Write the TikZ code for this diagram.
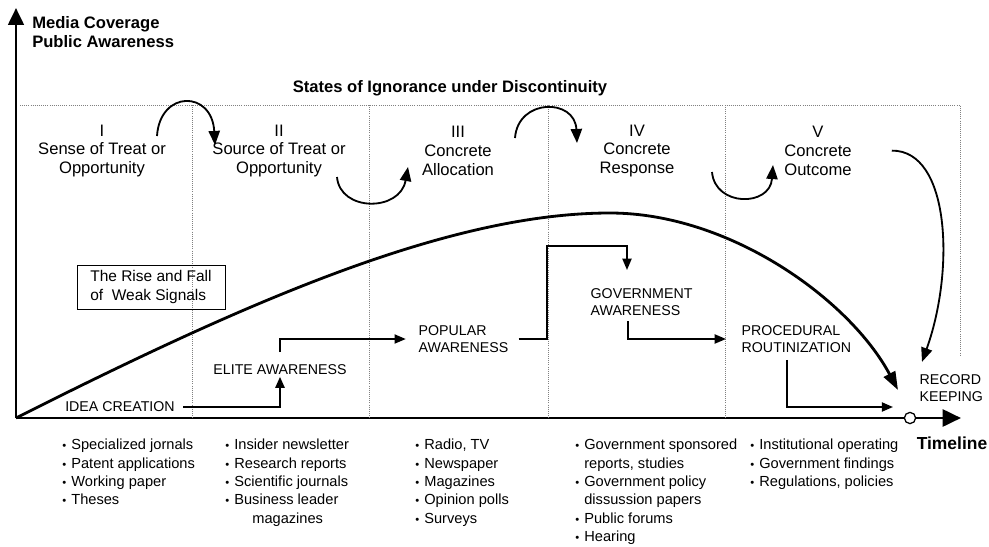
\documentclass[tikz,border=0pt]{standalone}
\usepackage{fontspec}
\setmainfont{Liberation Sans}
\usetikzlibrary{arrows.meta, calc}

\newcommand{\bul}{\makebox[0.62em][l]{\fontsize{8}{8}\selectfont\textbullet}}
\newcommand{\bulsp}{\hspace*{0.62em}}

\begin{document}
\begin{tikzpicture}[x=0.025cm, y=-0.025cm, >={Triangle[length=8pt,width=6.5pt]},
        stage/.style={align=center, font=\fontsize{11.8}{13.5}\selectfont},
        phase/.style={align=left, inner sep=1pt, font=\fontsize{10.1}{12}\selectfont},
        media/.style={align=left, anchor=north west, inner sep=0pt, font=\fontsize{10.4}{13}\selectfont},
        conn/.style={->, line width=1.1pt},
        swing/.style={-{Triangle[length=10pt,width=8pt]}, line width=1.3pt},
        zone/.style={densely dotted, gray, line width=0.5pt},
        axis/.style={line width=2.1pt}]

        \useasboundingbox (0,0) rectangle (989,547);

        % ==========================================
        % AXES
        % ==========================================
        \coordinate (origin) at (16,418);
        \coordinate (ytip) at (16,8);
        \coordinate (xtip) at (961,418);
        \node[draw, circle, fill=white, line width=0.9pt, minimum size=8pt, inner sep=0pt] (hub) at (910,418) {};
        \draw[axis, -{Triangle[length=12pt,width=11pt]}] (origin) -- (ytip);
        \draw[axis] (origin) -- (hub.west);
        \draw[axis, -{Triangle[length=13pt,width=12pt]}] (hub.east) -- (xtip);

        \node[anchor=west, align=left, inner sep=0pt, font=\bfseries\fontsize{11.8}{13.5}\selectfont] (ylabel) at (32,32) {Media Coverage\\Public Awareness};
        \node[font=\bfseries\fontsize{12.4}{14}\selectfont] (timeline) at (952,443) {Timeline};

        % ==========================================
        % STATES OF IGNORANCE
        % ==========================================
        \node[font=\bfseries\fontsize{11.8}{14}\selectfont] (title) at (450,88) {States of Ignorance under Discontinuity};

        % dotted frame
        \draw[zone] (20,105) -- (960,105) -- (960,355);
        \foreach \x in {192,369,548,725}
            \draw[zone] (\x,105) -- (\x,418);

        \node[stage] (s1) at (102,151) {I\\Sense of Treat or\\Opportunity};
        \node[stage] (s2) at (279,151) {II\\Source of Treat or\\Opportunity};
        \node[stage] (s3) at (458,151) {III\\Concrete\\Allocation};
        \node[stage] (s4) at (637,151) {IV\\Concrete\\Response};
        \node[stage] (s5) at (818,151) {V\\Concrete\\Outcome};

        % swings between states
        \coordinate (sw1a) at (157,136);
        \coordinate (sw1b) at (215,145);
        \coordinate (sw2a) at (337,177);
        \coordinate (sw2b) at (408,167);
        \coordinate (sw3a) at (515,138);
        \coordinate (sw3b) at (577,143);
        \coordinate (sw4a) at (712,172);
        \coordinate (sw4b) at (773,165);
        \draw[swing] (sw1a) .. controls (160,90) and (212,90) .. (sw1b);
        \draw[swing] (sw2a) .. controls (340,212) and (400,212) .. (sw2b);
        \draw[swing] (sw3a) .. controls (518,98) and (575,98) .. (sw3b);
        \draw[swing] (sw4a) .. controls (715,207) and (770,207) .. (sw4b);

        % ==========================================
        % RISE AND FALL
        % ==========================================
        \node[draw, line width=0.6pt, align=left, minimum width=3.7cm, minimum height=1.1cm, font=\fontsize{11}{13.5}\selectfont] (rise) at (151,287) {The Rise and Fall\\of\ \ Weak Signals};

        \draw[line width=2pt, -{Triangle[length=13pt,width=9pt]}] (origin) .. controls (250,300) and (450,213) .. (610,213)
            .. controls (730,213) and (850,300) .. ($(hub)+(-12,-28)$);

        % ==========================================
        % AWARENESS STEPS
        % ==========================================
        \node[phase] (idea) at (120,407) {IDEA CREATION};
        \node[phase] (elite) at (280,370) {ELITE AWARENESS};
        \node[phase, anchor=west] (popular) at (417,339) {POPULAR\\AWARENESS};
        \node[phase, anchor=west] (gov) at (589,302) {GOVERNMENT\\AWARENESS};
        \node[phase, anchor=west] (proc) at (740,339) {PROCEDURAL\\ROUTINIZATION};
        \node[phase, anchor=west] (record) at (918,388) {RECORD\\KEEPING};

        \coordinate (ridge) at (547,246);
        \draw[conn, line width=1.7pt, shorten <=5pt] (idea.east) -| (elite.south);
        \draw[conn, shorten <=8pt, shorten >=8pt] (elite.north) |- (popular.west);
        \draw[conn, shorten <=6pt, shorten >=12pt] (popular.east) -| (ridge) -| ($(gov.north west)+(38,0)$);
        \draw[conn, shorten <=3pt, shorten >=10pt] ($(gov.south west)+(39,0)$) |- (proc.west);
        \draw[conn, line width=1.4pt, shorten <=4pt] ($(proc.south west)+(47,0)$) |- ($(hub)+(-17,-11)$);

        % outcome to record keeping
        \draw[swing, shorten <=25pt] (s5.east) .. controls (950,150) and (955,270) .. ($(record.north west)+(4,-11)$);

        % ==========================================
        % MEDIA PER STATE
        % ==========================================
        \node[media] (src1) at (62,439) {\bul Specialized jornals\\\bul Patent applications\\\bul Working paper\\\bul Theses};
        \node[media] (src2) at (225,439) {\bul Insider newsletter\\\bul Research reports\\\bul Scientific journals\\\bul Business leader\\\hspace*{1.85em}magazines};
        \node[media] (src3) at (415,439) {\bul Radio, TV\\\bul Newspaper\\\bul Magazines\\\bul Opinion polls\\\bul Surveys};
        \node[media] (src4) at (575,439) {\bul Government sponsored\\\bulsp reports, studies\\\bul Government policy\\\bulsp dissussion papers\\\bul Public forums\\\bul Hearing};
        \node[media] (src5) at (750,439) {\bul Institutional operating\\\bul Government findings\\\bul Regulations, policies};

\end{tikzpicture}
\end{document}
